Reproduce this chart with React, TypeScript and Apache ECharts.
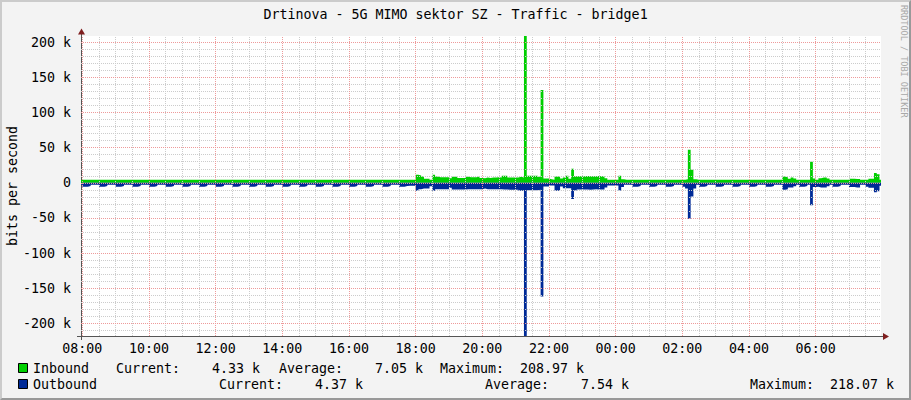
import React, { useEffect, useRef } from 'react';
import * as echarts from 'echarts';

const FONT = '"DejaVu Sans Mono", monospace';
const GREEN = '#00cf00';
const BLUE = '#002a97';
const MINOR = '#cccccc';
const MAJOR = '#ee9a9a';

const chartTitle = 'Drtinova - 5G MIMO sektor SZ - Traffic - bridge1';
const yAxisTitle = 'bits per second';
const watermark = 'RRDTOOL / TOBI OETIKER';

// x axis in hours (24 h window), y axis in kbit/s
const xMin = 7.961;
const xMax = 31.961;
const yMin = -218.07;
const yMax = 208.97;

const xMajor = [8, 10, 12, 14, 16, 18, 20, 22, 24, 26, 28, 30];
const xMinor = [8.5, 9, 9.5, 10.5, 11, 11.5, 12.5, 13, 13.5, 14.5, 15, 15.5, 16.5, 17, 17.5,
  18.5, 19, 19.5, 20.5, 21, 21.5, 22.5, 23, 23.5, 24.5, 25, 25.5, 26.5, 27, 27.5,
  28.5, 29, 29.5, 30.5, 31, 31.5];
const yMajor = [-200, -150, -100, -50, 0, 50, 100, 150, 200];
const yMinor = [-210, -190, -180, -170, -160, -140, -130, -120, -110, -90, -80, -70, -60,
  -40, -30, -20, -10, 10, 20, 30, 40, 60, 70, 80, 90, 110, 120, 130, 140, 160, 170, 180, 190];

// 5-minute samples, first one starting at 07:55
const firstSlot = 7 + 55 / 60;
const slotHours = 5 / 60;

const inboundK = [
  4.3,
  /* 08 */ 4.3, 4.3, 4.4, 4.3, 4.3, 4.3, 4.3, 4.3, 4.4, 4.3, 4.3, 4.3,
  /* 09 */ 4.3, 4.3, 4.3, 4.3, 4.4, 4.3, 4.3, 4.3, 4.3, 4.3, 4.3, 4.3,
  /* 10 */ 4.3, 4.4, 4.3, 4.3, 4.3, 4.3, 4.3, 4.3, 4.3, 4.4, 4.3, 4.3,
  /* 11 */ 4.3, 4.3, 4.3, 4.3, 4.3, 4.3, 4.4, 4.3, 4.3, 4.3, 4.3, 4.3,
  /* 12 */ 4.3, 4.3, 4.3, 4.4, 4.3, 4.3, 4.3, 4.3, 4.3, 4.3, 4.4, 4.3,
  /* 13 */ 4.3, 4.3, 4.3, 4.3, 4.3, 4.3, 4.3, 4.4, 4.3, 4.3, 4.3, 4.3,
  /* 14 */ 4.3, 4.3, 4.4, 4.3, 4.3, 4.3, 4.3, 4.3, 4.3, 4.3, 4.3, 4.3,
  /* 15 */ 4.3, 4.3, 4.3, 4.3, 4.3, 4.4, 4.3, 4.3, 4.3, 4.3, 4.3, 4.3,
  /* 16 */ 4.3, 4.3, 4.3, 4.3, 4.3, 4.3, 4.3, 4.3, 4.4, 4.3, 4.3, 4.3,
  /* 17 */ 4.3, 4.4, 4.3, 4.3, 4.3, 4.3, 4.3, 4.3, 4.3, 4.3, 4.4, 4.3,
  /* 18 */ 11.4, 10.5, 9.0, 5.7, 5.7, 4.3, 11.4, 9.0, 8.0, 8.0, 8.0, 8.0,
  /* 19 */ 6.6, 8.5, 8.5, 7.0, 7.0, 7.0, 8.5, 8.0, 8.0, 8.0, 9.0, 7.0,
  /* 20 */ 6.6, 7.5, 7.0, 7.5, 7.5, 8.0, 7.5, 10.0, 10.0, 7.5, 7.5, 7.5,
  /* 21 */ 7.5, 8.5, 7.5, 208.97, 10.0, 10.0, 10.0, 10.0, 8.5, 132.0, 6.0, 6.0,
  /* 22 */ 5.0, 4.5, 9.0, 9.0, 6.0, 7.6, 10.0, 5.7, 20.0, 9.5, 9.5, 9.5,
  /* 23 */ 9.5, 9.6, 9.4, 9.5, 9.5, 9.6, 9.5, 9.4, 6.6, 4.5, 4.5, 4.5,
  /* 00 */ 4.5, 10.0, 5.0, 4.3, 4.3, 4.3, 4.3, 4.3, 4.3, 4.3, 4.3, 4.3,
  /* 01 */ 4.3, 4.3, 4.3, 4.3, 4.3, 4.3, 4.3, 4.3, 4.3, 4.3, 4.3, 4.3,
  /* 02 */ 4.3, 5.0, 47.0, 18.5, 5.0, 4.3, 4.3, 4.3, 4.3, 4.3, 4.3, 4.3,
  /* 03 */ 4.3, 4.3, 4.3, 4.3, 4.3, 4.3, 4.3, 4.3, 4.3, 4.3, 4.3, 4.3,
  /* 04 */ 4.3, 4.3, 4.3, 4.3, 4.3, 4.3, 4.3, 4.3, 4.3, 4.3, 4.3, 4.3,
  /* 05 */ 9.0, 8.0, 5.7, 7.6, 6.0, 4.3, 4.3, 4.3, 4.3, 4.3, 30.0, 6.0,
  /* 06 */ 4.3, 6.6, 7.6, 7.6, 6.0, 4.3, 4.3, 4.3, 4.3, 4.3, 4.3, 4.3,
  /* 07 */ 5.7, 5.7, 5.5, 5.5, 4.3, 4.3, 4.3, 5.7, 5.7, 14.0, 12.0, 4.33,
  4.33,
];

const outboundK = [
  2.8,
  /* 08 */ 5.6, 5.6, 4.6, 2.8, 2.8, 2.8, 5.6, 5.6, 4.6, 2.8, 2.8, 2.8,
  /* 09 */ 5.6, 5.6, 4.6, 2.8, 2.8, 2.8, 5.6, 5.6, 4.6, 2.8, 2.9, 2.8,
  /* 10 */ 5.6, 5.6, 4.6, 2.8, 2.8, 2.8, 5.6, 5.6, 4.6, 2.8, 2.8, 2.8,
  /* 11 */ 5.6, 5.6, 4.6, 2.8, 2.8, 2.8, 5.6, 5.6, 4.6, 2.8, 2.8, 2.8,
  /* 12 */ 5.6, 5.6, 4.6, 2.8, 2.8, 2.8, 5.6, 5.6, 4.6, 2.8, 2.8, 2.8,
  /* 13 */ 5.6, 5.6, 4.6, 2.8, 2.8, 2.8, 5.6, 5.6, 4.6, 2.8, 2.8, 2.8,
  /* 14 */ 5.6, 5.6, 4.6, 2.8, 2.8, 2.8, 5.6, 5.6, 4.6, 2.8, 2.8, 2.8,
  /* 15 */ 5.6, 5.6, 4.6, 2.8, 2.8, 2.8, 5.6, 5.6, 4.6, 2.8, 2.8, 2.8,
  /* 16 */ 5.6, 5.6, 4.6, 2.8, 2.8, 2.8, 5.6, 5.6, 4.6, 2.8, 2.8, 2.8,
  /* 17 */ 5.6, 5.6, 4.6, 2.8, 2.8, 2.8, 5.6, 5.6, 4.6, 4.3, 4.3, 4.3,
  /* 18 */ 11.4, 9.0, 8.0, 8.0, 8.0, 5.0, 11.4, 9.0, 9.0, 9.0, 9.0, 9.0,
  /* 19 */ 7.0, 9.5, 9.5, 9.5, 9.5, 9.5, 9.0, 9.0, 9.0, 9.0, 9.0, 9.0,
  /* 20 */ 8.0, 9.0, 9.0, 9.0, 9.0, 9.0, 9.0, 9.5, 9.5, 10.0, 10.0, 10.0,
  /* 21 */ 10.0, 11.4, 11.4, 218.07, 10.5, 10.5, 10.5, 10.5, 10.0, 162.0, 5.2, 5.2,
  /* 22 */ 3.8, 3.8, 11.4, 11.4, 5.2, 7.6, 7.6, 7.6, 23.0, 11.0, 9.5, 9.5,
  /* 23 */ 9.5, 9.5, 9.8, 9.5, 9.3, 9.5, 9.5, 9.5, 6.6, 3.8, 3.8, 3.8,
  /* 00 */ 3.8, 11.0, 6.0, 2.8, 2.8, 2.8, 5.6, 5.6, 4.6, 2.8, 2.8, 2.8,
  /* 01 */ 5.6, 5.6, 4.6, 2.8, 2.8, 2.8, 5.6, 5.6, 4.6, 2.8, 2.8, 2.8,
  /* 02 */ 5.6, 8.0, 51.0, 19.5, 8.0, 2.8, 5.6, 5.6, 4.6, 2.8, 2.8, 2.8,
  /* 03 */ 5.6, 5.6, 4.6, 2.8, 2.8, 2.8, 5.6, 5.6, 4.6, 2.8, 2.8, 2.8,
  /* 04 */ 5.6, 5.6, 4.6, 2.8, 2.8, 2.8, 5.6, 5.6, 4.6, 2.8, 2.8, 2.8,
  /* 05 */ 10.0, 9.0, 6.6, 6.6, 5.0, 2.8, 5.6, 5.6, 4.6, 2.8, 32.0, 6.0,
  /* 06 */ 5.6, 6.6, 6.6, 6.6, 5.0, 2.8, 5.6, 5.6, 4.6, 2.8, 2.8, 2.8,
  /* 07 */ 6.0, 6.0, 6.6, 6.6, 2.8, 2.8, 5.6, 7.0, 7.0, 13.3, 12.0, 4.37,
  4.37,
];

const inboundStats = ['4.33 k', '7.05 k', '208.97 k'];
const outboundStats = ['4.37 k', '7.54 k', '218.07 k'];
const statLabels = ['Current:', 'Average:', 'Maximum:'];
const seriesNames = ['Inbound', 'Outbound'];

const fmtHour = (v: number) => {
  const h = ((Math.round(v) % 24) + 24) % 24;
  return (h < 10 ? '0' : '') + h + ':00';
};
const fmtK = (v: number) => (v === 0 ? '0' : v + ' k');

export default function App() {
  const ref = useRef<HTMLDivElement>(null);

  useEffect(() => {
    document.body.style.margin = '0';
    if (!ref.current) return;
    const chart = echarts.init(ref.current, undefined, { renderer: 'svg' });

    const inData = inboundK.map((v, i) => [firstSlot + i * slotHours, v]);
    const outData = outboundK.map((v, i) => [firstSlot + i * slotHours, -v]);

    const labelStyle = { fontFamily: FONT, fontSize: 13.3, color: '#000' };
    const txt = (text: string, x: number, y: number, align = 'left', extra: any = {}) => ({
      type: 'text',
      x,
      y,
      silent: true,
      z: 10,
      style: { text, fontFamily: FONT, fontSize: 13.3, fill: '#000', align, verticalAlign: 'middle', ...extra },
    });

    const line1Y = 368;
    const line2Y = 384;
    const line1X = [116, 279, 440];
    const line2X = [219, 485, 750];
    const statW = 144;

    const graphic: any[] = [
      txt(chartTitle, 455.5, 14, 'center'),
      { ...txt(yAxisTitle, 12, 186, 'center'), rotation: Math.PI / 2 },
      {
        type: 'text', x: 904, y: 5, rotation: -Math.PI / 2, silent: true, z: 10,
        style: { text: watermark, fontFamily: FONT, fontSize: 8.5, fill: '#a8a8a8', align: 'left', verticalAlign: 'middle' },
      },
      // axis extensions and arrows
      { type: 'line', silent: true, z: 10, shape: { x1: 81.5, y1: 33, x2: 81.5, y2: 36 }, style: { stroke: '#555', lineWidth: 1 } },
      { type: 'line', silent: true, z: 10, shape: { x1: 81.5, y1: 336, x2: 81.5, y2: 340 }, style: { stroke: '#555', lineWidth: 1 } },
      { type: 'line', silent: true, z: 10, shape: { x1: 77, y1: 336.5, x2: 81, y2: 336.5 }, style: { stroke: '#555', lineWidth: 1 } },
      { type: 'line', silent: true, z: 10, shape: { x1: 881, y1: 336.5, x2: 884, y2: 336.5 }, style: { stroke: '#555', lineWidth: 1 } },
      { type: 'polygon', silent: true, z: 11, shape: { points: [[81.5, 28.5], [78, 34.5], [85, 34.5]] }, style: { fill: '#7f1f1f' } },
      { type: 'polygon', silent: true, z: 11, shape: { points: [[889, 336.5], [883, 333], [883, 340]] }, style: { fill: '#7f1f1f' } },
      // legend
      { type: 'rect', silent: true, z: 10, shape: { x: 18.5, y: 363.5, width: 9, height: 9 }, style: { fill: GREEN, stroke: '#000', lineWidth: 1 } },
      { type: 'rect', silent: true, z: 10, shape: { x: 18.5, y: 379.5, width: 9, height: 9 }, style: { fill: BLUE, stroke: '#000', lineWidth: 1 } },
      txt(seriesNames[0], 33, line1Y),
      txt(seriesNames[1], 33, line2Y),
    ];
    statLabels.forEach((lab, k) => {
      graphic.push(txt(lab, line1X[k], line1Y));
      graphic.push(txt(inboundStats[k], line1X[k] + statW, line1Y, 'right'));
      graphic.push(txt(lab, line2X[k], line2Y));
      graphic.push(txt(outboundStats[k], line2X[k] + statW, line2Y, 'right'));
    });

    const dot = (color: string) => ({ color, width: 1, type: [1, 1] });
    const gridLines = [
      ...yMinor.map((v) => ({ yAxis: v, lineStyle: dot(MINOR) })),
      ...xMinor.map((v) => ({ xAxis: v, lineStyle: dot(MINOR) })),
      ...yMajor.map((v) => ({ yAxis: v, lineStyle: dot(MAJOR) })),
      ...xMajor.map((v) => ({ xAxis: v, lineStyle: dot(MAJOR) })),
    ];

    chart.setOption({
      animation: false,
      backgroundColor: '#f3f3f3',
      textStyle: { fontFamily: FONT },
      grid: { left: 81, top: 36, width: 800, height: 300, show: true, backgroundColor: '#ffffff', borderWidth: 0 },
      xAxis: {
        type: 'value', min: xMin, max: xMax, position: 'bottom',
        axisLine: { show: true, onZero: false, lineStyle: { color: '#555', width: 1 } },
        axisTick: { show: false, customValues: xMajor },
        axisLabel: { show: true, customValues: xMajor, formatter: fmtHour, margin: 6, ...labelStyle },
        splitLine: { show: false },
      },
      yAxis: {
        type: 'value', min: yMin, max: yMax, position: 'left',
        axisLine: { show: true, onZero: false, lineStyle: { color: '#555', width: 1 } },
        axisTick: { show: false, customValues: yMajor },
        axisLabel: { show: true, customValues: yMajor, formatter: fmtK, margin: 10, ...labelStyle },
        splitLine: { show: false },
      },
      series: [
        {
          name: 'grid', type: 'line', symbol: 'none', silent: true, z: 1,
          lineStyle: { width: 0 }, data: [[xMin, 0]],
          markLine: {
            silent: true, symbol: ['none', 'none'], label: { show: false }, animation: false,
            emphasis: { disabled: true },
            data: gridLines,
          },
        },
        {
          name: seriesNames[0], type: 'line', step: 'end',
          symbol: 'none', showSymbol: false, silent: true, z: 3,
          lineStyle: { width: 0, color: GREEN }, itemStyle: { color: GREEN },
          areaStyle: { color: GREEN, opacity: 1 },
          data: inData,
        },
        {
          name: seriesNames[1], type: 'line', step: 'end',
          symbol: 'none', showSymbol: false, silent: true, z: 4,
          lineStyle: { width: 0, color: BLUE }, itemStyle: { color: BLUE },
          areaStyle: { color: BLUE, opacity: 1 },
          data: outData,
          markLine: {
            silent: true, symbol: ['none', 'none'], label: { show: false }, animation: false,
            lineStyle: { color: MAJOR, width: 1, type: [1, 1] },
            data: [{ yAxis: 0 }],
          },
        },
      ],
      graphic,
    });

    return () => chart.dispose();
  }, []);

  return (
    <div style={{ position: 'relative', width: 911, height: 400, background: '#f3f3f3' }}>
      <div ref={ref} style={{ position: 'absolute', left: 0, top: 0, width: 911, height: 400 }} />
      <div
        style={{
          position: 'absolute', left: 0, top: 0, width: 911, height: 400, boxSizing: 'border-box',
          borderTop: '2px solid #cbcbcb', borderLeft: '2px solid #cbcbcb',
          borderRight: '2px solid #999999', borderBottom: '2px solid #999999', pointerEvents: 'none',
        }}
      />
    </div>
  );
}
